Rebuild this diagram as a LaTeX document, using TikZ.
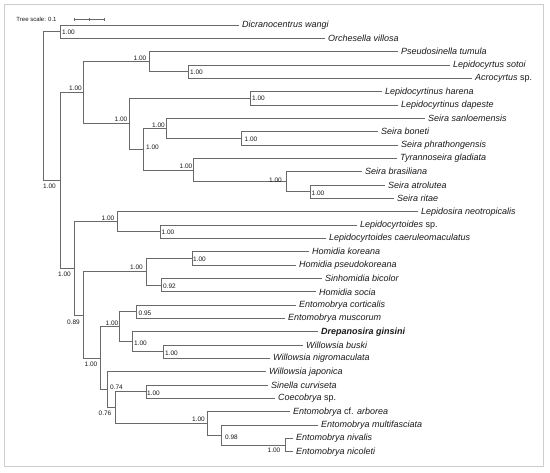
\documentclass[tikz,border=0pt]{standalone}
\usepackage{fontspec}
\setmainfont{Liberation Sans}
\definecolor{brc}{RGB}{105,105,105}
\definecolor{txt}{RGB}{25,25,25}
\definecolor{frm}{RGB}{205,205,205}
\begin{document}
\begin{tikzpicture}[x=1pt,y=-1pt,
  br/.style={draw=brc, line width=0.9pt},
  leaf/.style={anchor=west, inner sep=0pt, xshift=3pt, font=\fontsize{9}{10}\selectfont\itshape, text=txt},
  sup/.style={inner sep=0pt, font=\fontsize{6.5}{7}\selectfont, text=txt},
  frame/.style={draw=frm, line width=1.3pt}]
\useasboundingbox (0,0) rectangle (550,473);
\draw[frame] (4.5,4.5) rectangle (543.5,466.5);
% scale bar
\node[sup, font=\fontsize{6}{7}\selectfont] (scl) at (36.5,19.5) {Tree scale: 0.1};
\coordinate (sb1) at (74,19.5);
\coordinate (sb2) at (104,19.5);
\coordinate (sbm) at (89,19.5);
\draw[br, line width=0.5pt] (sb1) -- (sb2);
\draw[br, line width=0.5pt] ([yshift=-1.5pt]sb1) -- ([yshift=1.5pt]sb1);
\draw[br, line width=0.5pt] ([yshift=-1.5pt]sb2) -- ([yshift=1.5pt]sb2);
\draw[br, line width=0.5pt] ([yshift=-1.2pt]sbm) -- ([yshift=1.2pt]sbm);
\begin{scope}[y=-13.34pt, yshift=-11.66pt]
% leaves
\coordinate (l1) at (239,1);  \node[leaf] (t1) at (l1) {Dicranocentrus wangi};
\coordinate (l2) at (325,2);  \node[leaf] (t2) at (l2) {Orchesella villosa};
\coordinate (l3) at (398,3);  \node[leaf] (t3) at (l3) {Pseudosinella tumula};
\coordinate (l4) at (450,4);  \node[leaf] (t4) at (l4) {Lepidocyrtus sotoi};
\coordinate (l5) at (472,5);  \node[leaf] (t5) at (l5) {Acrocyrtus \upshape sp.};
\coordinate (l6) at (382,6);  \node[leaf] (t6) at (l6) {Lepidocyrtinus harena};
\coordinate (l7) at (398,7);  \node[leaf] (t7) at (l7) {Lepidocyrtinus dapeste};
\coordinate (l8) at (425,8);  \node[leaf] (t8) at (l8) {Seira sanloemensis};
\coordinate (l9) at (378,9);  \node[leaf] (t9) at (l9) {Seira boneti};
\coordinate (l10) at (398,10); \node[leaf] (t10) at (l10) {Seira phrathongensis};
\coordinate (l11) at (397,11); \node[leaf] (t11) at (l11) {Tyrannoseira gladiata};
\coordinate (l12) at (362,12); \node[leaf] (t12) at (l12) {Seira brasiliana};
\coordinate (l13) at (385,13); \node[leaf] (t13) at (l13) {Seira atrolutea};
\coordinate (l14) at (394,14); \node[leaf] (t14) at (l14) {Seira ritae};
\coordinate (l15) at (418,15); \node[leaf] (t15) at (l15) {Lepidosira neotropicalis};
\coordinate (l16) at (357,16); \node[leaf] (t16) at (l16) {Lepidocyrtoides \upshape sp.};
\coordinate (l17) at (326,17); \node[leaf] (t17) at (l17) {Lepidocyrtoides caeruleomaculatus};
\coordinate (l18) at (309,18); \node[leaf] (t18) at (l18) {Homidia koreana};
\coordinate (l19) at (296,19); \node[leaf] (t19) at (l19) {Homidia pseudokoreana};
\coordinate (l20) at (322,20); \node[leaf] (t20) at (l20) {Sinhomidia bicolor};
\coordinate (l21) at (316,21); \node[leaf] (t21) at (l21) {Homidia socia};
\coordinate (l22) at (296,22); \node[leaf] (t22) at (l22) {Entomobrya corticalis};
\coordinate (l23) at (285,23); \node[leaf] (t23) at (l23) {Entomobrya muscorum};
\coordinate (l24) at (318,24); \node[leaf] (t24) at (l24) {\bfseries Drepanosira ginsini};
\coordinate (l25) at (303,25); \node[leaf] (t25) at (l25) {Willowsia buski};
\coordinate (l26) at (270,26); \node[leaf] (t26) at (l26) {Willowsia nigromaculata};
\coordinate (l27) at (266,27); \node[leaf] (t27) at (l27) {Willowsia japonica};
\coordinate (l28) at (268,28); \node[leaf] (t28) at (l28) {Sinella curviseta};
\coordinate (l29) at (275,29); \node[leaf] (t29) at (l29) {Coecobrya \upshape sp.};
\coordinate (l30) at (290,30); \node[leaf] (t30) at (l30) {Entomobrya \upshape cf. \itshape arborea};
\coordinate (l31) at (318,31); \node[leaf] (t31) at (l31) {Entomobrya multifasciata};
\coordinate (l32) at (293,32); \node[leaf] (t32) at (l32) {Entomobrya nivalis};
\coordinate (l33) at (293,33); \node[leaf] (t33) at (l33) {Entomobrya nicoleti};
% internal nodes
\coordinate (root) at (43,7.08105);
\coordinate (nA) at (60,1.5);
\coordinate (n60b) at (60,12.66211);
\coordinate (n83t) at (83,6.078125);
\coordinate (n149) at (149,3.75);
\coordinate (n188) at (188,4.5);
\coordinate (n129) at (129,8.40625);
\coordinate (n250) at (250,6.5);
\coordinate (n143) at (143,10.3125);
\coordinate (n166) at (166,8.75);
\coordinate (n241) at (241,9.5);
\coordinate (n193) at (193,11.875);
\coordinate (n286) at (286,12.75);
\coordinate (n310) at (310,13.5);
\coordinate (n74) at (74,19.24609);
\coordinate (n117) at (117,15.75);
\coordinate (n160) at (160,16.5);
\coordinate (n83b) at (83,22.7421875);
\coordinate (n146a) at (146,19.5);
\coordinate (n192) at (192,18.5);
\coordinate (n161) at (161,20.5);
\coordinate (n100) at (100,25.984375);
\coordinate (n119) at (119,23.625);
\coordinate (n136) at (136,22.5);
\coordinate (n132) at (132,24.75);
\coordinate (n163) at (163,25.5);
\coordinate (n107) at (107,28.34375);
\coordinate (n115) at (115,29.6875);
\coordinate (n146b) at (146,28.5);
\coordinate (n207) at (207,30.875);
\coordinate (n221) at (221,31.75);
\coordinate (n285) at (285,32.5);
% branches
\draw[br] (root) |- (nA);   \draw[br] (root) |- (n60b);
\draw[br] (nA) |- (l1);     \draw[br] (nA) |- (l2);
\draw[br] (n60b) |- (n83t); \draw[br] (n60b) |- (n74);
\draw[br] (n83t) |- (n149); \draw[br] (n83t) |- (n129);
\draw[br] (n149) |- (l3);   \draw[br] (n149) |- (n188);
\draw[br] (n188) |- (l4);   \draw[br] (n188) |- (l5);
\draw[br] (n129) |- (n250); \draw[br] (n129) |- (n143);
\draw[br] (n250) |- (l6);   \draw[br] (n250) |- (l7);
\draw[br] (n143) |- (n166); \draw[br] (n143) |- (n193);
\draw[br] (n166) |- (l8);   \draw[br] (n166) |- (n241);
\draw[br] (n241) |- (l9);   \draw[br] (n241) |- (l10);
\draw[br] (n193) |- (l11);  \draw[br] (n193) |- (n286);
\draw[br] (n286) |- (l12);  \draw[br] (n286) |- (n310);
\draw[br] (n310) |- (l13);  \draw[br] (n310) |- (l14);
\draw[br] (n74) |- (n117);  \draw[br] (n74) |- (n83b);
\draw[br] (n117) |- (l15);  \draw[br] (n117) |- (n160);
\draw[br] (n160) |- (l16);  \draw[br] (n160) |- (l17);
\draw[br] (n83b) |- (n146a); \draw[br] (n83b) |- (n100);
\draw[br] (n146a) |- (n192); \draw[br] (n146a) |- (n161);
\draw[br] (n192) |- (l18);  \draw[br] (n192) |- (l19);
\draw[br] (n161) |- (l20);  \draw[br] (n161) |- (l21);
\draw[br] (n100) |- (n119); \draw[br] (n100) |- (n107);
\draw[br] (n119) |- (n136); \draw[br] (n119) |- (n132);
\draw[br] (n136) |- (l22);  \draw[br] (n136) |- (l23);
\draw[br] (n132) |- (l24);  \draw[br] (n132) |- (n163);
\draw[br] (n163) |- (l25);  \draw[br] (n163) |- (l26);
\draw[br] (n107) |- (l27);  \draw[br] (n107) |- (n115);
\draw[br] (n115) |- (n146b); \draw[br] (n115) |- (n207);
\draw[br] (n146b) |- (l28); \draw[br] (n146b) |- (l29);
\draw[br] (n207) |- (l30);  \draw[br] (n207) |- (n221);
\draw[br] (n221) |- (l31);  \draw[br] (n221) |- (n285);
\draw[br] (n285) |- (l32);  \draw[br] (n285) |- (l33);
\end{scope}
% support values
\node[sup] (s1) at (68.5,32) {1.00};
\node[sup] (s2) at (49.5,186) {1.00};
\node[sup] (s3) at (75.5,88) {1.00};
\node[sup] (s4) at (140,58) {1.00};
\node[sup] (s5) at (196.5,72) {1.00};
\node[sup] (s6) at (258.5,98) {1.00};
\node[sup] (s7) at (121,119) {1.00};
\node[sup] (s8) at (152.5,147) {1.00};
\node[sup] (s9) at (158.5,125) {1.00};
\node[sup] (s10) at (251,139) {1.00};
\node[sup] (s11) at (186,166) {1.00};
\node[sup] (s12) at (275.5,180) {1.00};
\node[sup] (s13) at (318,193) {1.00};
\node[sup] (s14) at (64.5,274) {1.00};
\node[sup] (s15) at (108,218) {1.00};
\node[sup] (s16) at (168,232) {1.00};
\node[sup] (s17) at (73.5,322) {0.89};
\node[sup] (s18) at (136.5,267) {1.00};
\node[sup] (s19) at (199.5,259) {1.00};
\node[sup] (s20) at (169.5,286) {0.92};
\node[sup] (s21) at (91,364) {1.00};
\node[sup] (s22) at (112,323) {1.00};
\node[sup] (s23) at (145,313) {0.95};
\node[sup] (s24) at (140.5,343) {1.00};
\node[sup] (s25) at (171.5,353) {1.00};
\node[sup] (s26) at (116.5,387) {0.74};
\node[sup] (s27) at (105,413) {0.76};
\node[sup] (s28) at (153.5,393) {1.00};
\node[sup] (s29) at (198.5,419) {1.00};
\node[sup] (s30) at (231.5,437) {0.98};
\node[sup] (s31) at (274,450) {1.00};
\end{tikzpicture}
\end{document}
